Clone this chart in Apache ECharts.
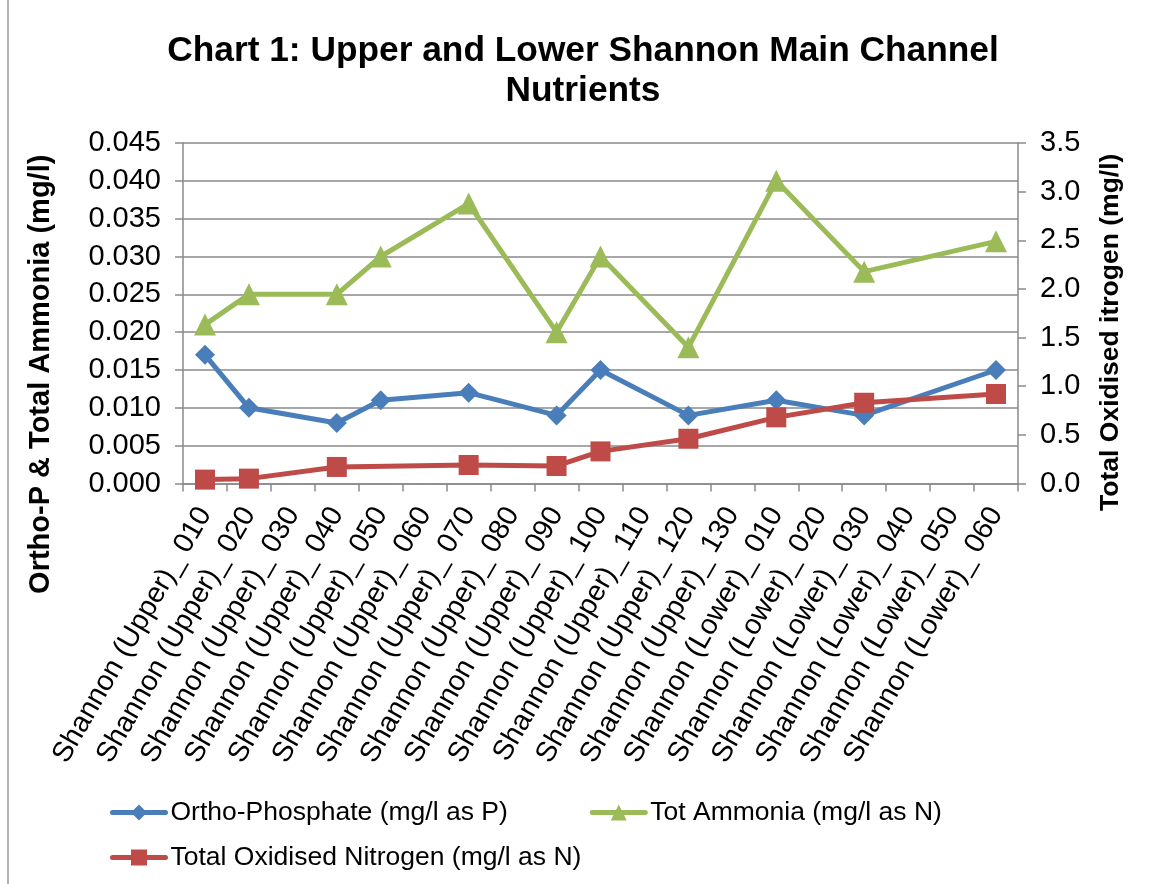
<!DOCTYPE html>
<html>
<head>
<meta charset="utf-8">
<script src="https://cdn.jsdelivr.net/npm/echarts@6/dist/echarts.min.js"></script>
<style>
html,body{margin:0;padding:0;background:#fff;}
#chart{width:1151px;height:884px;}
</style>
</head>
<body>
<div id="chart"></div>
<script>
var categories = [
  "Shannon (Upper)_ 010","Shannon (Upper)_ 020","Shannon (Upper)_ 030","Shannon (Upper)_ 040",
  "Shannon (Upper)_ 050","Shannon (Upper)_ 060","Shannon (Upper)_ 070","Shannon (Upper)_ 080",
  "Shannon (Upper)_ 090","Shannon (Upper)_ 100","Shannon (Upper)_ 110","Shannon (Upper)_ 120",
  "Shannon (Upper)_ 130","Shannon (Lower)_ 010","Shannon (Lower)_ 020","Shannon (Lower)_ 030",
  "Shannon (Lower)_ 040","Shannon (Lower)_ 050","Shannon (Lower)_ 060"
];
var orthoP = [0.017, 0.010, null, 0.008, 0.011, null, 0.012, null, 0.009, 0.015, null, 0.009, null, 0.011, null, 0.009, null, null, 0.015];
var totAmmonia = [0.021, 0.025, null, 0.025, 0.030, null, 0.037, null, 0.020, 0.030, null, 0.018, null, 0.040, null, 0.028, null, null, 0.032];
var totOxN = [0.04, 0.05, null, 0.17, null, null, 0.19, null, 0.18, 0.33, null, 0.46, null, 0.68, null, 0.83, null, null, 0.92];

var seriesNames = ["Ortho-Phosphate (mg/l as P)", "Tot Ammonia (mg/l as N)", "Total Oxidised Nitrogen (mg/l as N)"];
var titleText = "Chart 1: Upper and Lower Shannon Main Channel\nNutrients";
var leftAxisName = "Ortho-P & Total Ammonia (mg/l)";
var rightAxisName = "Total Oxidised itrogen (mg/l)";

var FONT = "Liberation Sans, Arial, sans-serif";
var grey = "#8a8a8a";

var chart = echarts.init(document.getElementById("chart"), null, {renderer: "canvas"});
chart.setOption({
  animation: false,
  backgroundColor: "#ffffff",
  title: {
    text: titleText,
    left: 583,
    textAlign: "center",
    top: 31,
    padding: 0,
    textStyle: {fontFamily: FONT, fontSize: 35.3, fontWeight: "bold", color: "#000", lineHeight: 40}
  },
  graphic: [{
    type: "line",
    shape: {x1: 8, y1: 0, x2: 8, y2: 884},
    style: {stroke: "#9a9a9a", lineWidth: 1.5}
  }],
  legend: [{
    data: [seriesNames[0], seriesNames[1]],
    left: 110, top: 799, padding: 0,
    itemWidth: 53, itemHeight: 20, itemGap: 82,
    lineStyle: {width: 5, cap: "round"},
    textStyle: {fontFamily: FONT, fontSize: 26.5, color: "#000"},
    selectedMode: false
  }, {
    data: [seriesNames[2]],
    left: 110, top: 844, padding: 0,
    itemWidth: 53, itemHeight: 20,
    lineStyle: {width: 5, cap: "round"},
    textStyle: {fontFamily: FONT, fontSize: 26.5, color: "#000"},
    selectedMode: false
  }],
  grid: {left: 183, right: 133, top: 143, bottom: 400.5, containLabel: false},
  xAxis: {
    type: "category",
    data: categories,
    boundaryGap: true,
    axisLine: {show: true, lineStyle: {color: grey, width: 1.5}},
    axisTick: {show: true, length: 8, alignWithLabel: false, lineStyle: {color: grey, width: 1.5}},
    axisLabel: {interval: 0, rotate: 60, margin: 26, fontFamily: FONT, fontSize: 28.5, color: "#000"},
    splitLine: {show: false}
  },
  yAxis: [{
    type: "value",
    min: 0, max: 0.045, interval: 0.005,
    position: "left",
    name: leftAxisName,
    nameLocation: "middle",
    nameRotate: 90,
    nameGap: 128,
    nameTextStyle: {fontFamily: FONT, fontSize: 29, fontWeight: "bold", color: "#000", padding: [0, 122, 0, 0]},
    axisLine: {show: true, lineStyle: {color: grey, width: 1.5}},
    axisTick: {show: true, length: 8, lineStyle: {color: grey, width: 1.5}},
    axisLabel: {margin: 22, fontFamily: FONT, fontSize: 29, color: "#000", formatter: function (v) { return v.toFixed(3); }},
    splitLine: {show: true, lineStyle: {color: grey, width: 1.5}}
  }, {
    type: "value",
    min: 0, max: 3.5, interval: 0.5,
    position: "right",
    name: rightAxisName,
    nameLocation: "middle",
    nameRotate: 90,
    nameGap: 79,
    nameTextStyle: {fontFamily: FONT, fontSize: 26.5, fontWeight: "bold", color: "#000", padding: [0, 38, 0, 0]},
    axisLine: {show: true, lineStyle: {color: grey, width: 1.5}},
    axisTick: {show: true, length: 8, lineStyle: {color: grey, width: 1.5}},
    axisLabel: {margin: 22, fontFamily: FONT, fontSize: 29, color: "#000", formatter: function (v) { return v.toFixed(1); }},
    splitLine: {show: false}
  }],
  series: [{
    name: seriesNames[0],
    type: "line",
    yAxisIndex: 0,
    data: orthoP,
    connectNulls: true,
    symbol: "diamond",
    symbolSize: 20,
    lineStyle: {color: "#4a7ebb", width: 5},
    itemStyle: {color: "#4a7ebb"},
    z: 2
  }, {
    name: seriesNames[1],
    type: "line",
    yAxisIndex: 0,
    data: totAmmonia,
    connectNulls: true,
    symbol: "triangle",
    symbolSize: 22,
    lineStyle: {color: "#9bbb59", width: 5},
    itemStyle: {color: "#9bbb59"},
    z: 3
  }, {
    name: seriesNames[2],
    type: "line",
    yAxisIndex: 1,
    data: totOxN,
    connectNulls: true,
    symbol: "rect",
    symbolSize: 20,
    lineStyle: {color: "#be4b48", width: 5},
    itemStyle: {color: "#be4b48"},
    z: 4
  }]
});
</script>
</body>
</html>
